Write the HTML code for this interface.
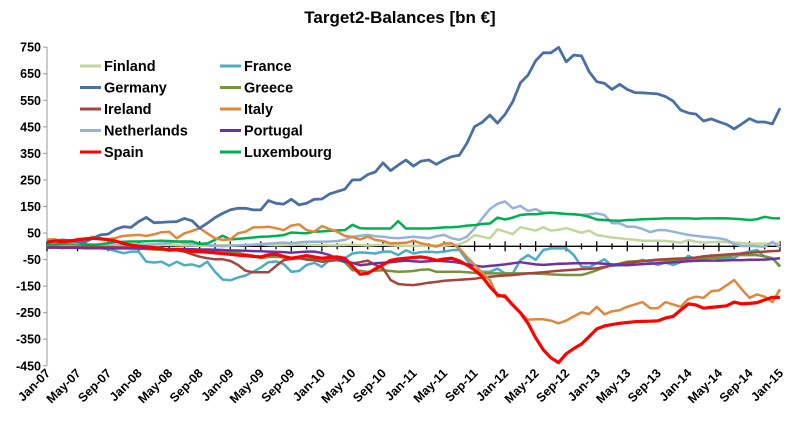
<!DOCTYPE html>
<html><head><meta charset="utf-8"><style>
body{margin:0;background:#fff;}
svg{display:block;font-family:"Liberation Sans",Arial,sans-serif;}
</style></head><body>
<svg id="chart" width="800" height="433" viewBox="0 0 800 433">
<text x="400" y="23" text-anchor="middle" font-size="17" font-weight="bold">Target2-Balances [bn €]</text>
<g id="yaxis"></g>
<g id="xaxis"></g>
<g id="series"></g>
<g id="legend"></g>
</svg>
<script>
const yTicks=[750,650,550,450,350,250,150,50,-50,-150,-250,-350,-450];
const xLabels=["Jan-07","May-07","Sep-07","Jan-08","May-08","Sep-08","Jan-09","May-09","Sep-09","Jan-10","May-10","Sep-10","Jan-11","May-11","Sep-11","Jan-12","May-12","Sep-12","Jan-13","May-13","Sep-13","Jan-14","May-14","Sep-14","Jan-15"];
const germany=[17,20,24,22,17,17,30,43,46,64,74,71,93,109,89,90,92,93,105,96,68,87,108,124,137,143,143,137,137,172,162,159,177,156,162,177,178,197,206,215,250,250,270,280,314,285,306,325,302,321,325,309,325,338,343,388,451,467,494,464,497,545,616,645,699,729,729,749,695,720,717,658,620,614,591,610,591,579,578,576,574,564,547,513,502,498,472,480,469,459,442,461,481,468,468,461,520];
const spain=[15,20,18,20,25,28,30,28,25,20,10,5,0,-2,-5,-8,-15,-12,-15,-20,-20,-22,-25,-28,-30,-33,-35,-38,-40,-32,-30,-38,-45,-40,-35,-40,-45,-42,-40,-45,-75,-105,-102,-85,-70,-53,-48,-45,-42,-40,-45,-53,-48,-45,-55,-70,-89,-114,-152,-183,-190,-221,-250,-290,-345,-390,-420,-438,-405,-385,-368,-340,-311,-300,-295,-290,-287,-284,-283,-282,-281,-270,-264,-240,-217,-221,-233,-230,-227,-224,-210,-217,-215,-212,-202,-192,-193];
const italy=[26,26,20,15,11,25,36,30,26,32,39,41,43,39,45,53,55,30,49,58,68,49,30,24,26,49,55,71,72,74,68,61,78,83,61,55,76,65,55,39,35,26,36,24,20,11,12,13,21,11,5,-1,11,11,-8,-40,-70,-100,-127,-190,-183,-221,-250,-277,-275,-275,-280,-290,-280,-264,-249,-255,-228,-256,-245,-241,-228,-219,-210,-233,-233,-210,-219,-228,-198,-190,-194,-169,-166,-147,-127,-162,-194,-181,-190,-210,-162];
const luxembourg=[5,7,9,11,10,8,5,8,12,15,17,18,18,19,20,21,20,18,18,18,9,11,24,40,26,28,30,33,36,37,39,42,52,50,49,55,56,58,60,61,81,68,67,67,67,67,95,67,67,67,67,69,71,72,74,78,80,84,86,108,101,108,118,121,121,124,126,124,122,121,118,111,101,99,97,96,99,100,102,103,104,105,105,105,105,104,105,105,106,105,104,102,99,102,111,106,105];
const netherlands=[5,5,6,5,5,6,7,5,3,2,5,6,8,6,8,10,12,18,12,10,8,5,2,0,2,3,5,6,8,10,12,14,11,15,17,17,17,18,20,24,36,40,43,38,36,32,30,33,36,33,30,38,43,30,24,36,67,105,140,160,169,143,152,133,140,127,127,125,121,120,118,120,124,118,87,87,74,74,65,53,61,61,55,49,43,39,36,33,30,24,8,1,1,0,-2,17,-4];
const finland=[2,2,3,3,3,2,2,3,3,4,5,4,3,3,4,5,5,4,3,3,2,2,3,4,5,4,5,6,8,5,4,5,6,7,6,5,5,4,4,5,6,5,3,5,6,4,2,2,1,2,2,3,2,5,8,20,42,36,30,64,55,46,72,66,59,72,59,62,68,60,51,59,42,38,33,30,27,24,21,21,21,20,17,14,24,17,14,15,17,16,14,12,9,10,10,11,11];
const france=[5,3,2,0,-2,-3,-5,-7,-10,-18,-26,-20,-20,-58,-61,-58,-73,-58,-71,-68,-77,-58,-96,-125,-128,-118,-110,-96,-80,-60,-57,-67,-96,-93,-70,-62,-77,-52,-45,-45,-27,-23,-25,-27,-20,-20,-33,-15,-27,-22,-20,-23,-20,-15,-13,-52,-90,-96,-96,-84,-102,-102,-52,-33,-51,-14,-8,-8,-8,-33,-77,-79,-64,-49,-74,-72,-70,-60,-51,-60,-70,-61,-70,-60,-36,-51,-49,-34,-51,-45,-45,-26,-20,-14,-39,-45,-74];
const greece=[-2,-2,-3,-3,-4,-4,-5,-5,-6,-6,-7,-8,-9,-10,-12,-14,-14,-15,-15,-16,-17,-18,-18,-20,-22,-25,-30,-35,-45,-40,-39,-42,-45,-45,-44,-45,-48,-52,-52,-60,-90,-92,-96,-92,-90,-93,-96,-95,-93,-88,-87,-96,-96,-96,-96,-98,-100,-102,-102,-102,-102,-102,-102,-102,-103,-104,-106,-107,-108,-108,-108,-100,-90,-80,-71,-65,-58,-56,-55,-54,-53,-52,-52,-50,-48,-46,-45,-44,-42,-40,-33,-33,-33,-33,-38,-45,-77];
const ireland=[-5,-4,-3,-3,-2,-2,-2,-3,-3,-4,-4,-5,-5,-6,-8,-10,-12,-15,-20,-30,-39,-45,-49,-49,-55,-70,-92,-98,-98,-98,-74,-52,-48,-45,-50,-52,-58,-55,-52,-55,-64,-60,-54,-70,-83,-127,-142,-145,-146,-142,-137,-134,-130,-128,-126,-124,-122,-118,-115,-112,-110,-108,-105,-102,-100,-98,-95,-92,-90,-88,-86,-85,-83,-78,-72,-67,-62,-59,-56,-53,-50,-49,-47,-46,-45,-42,-38,-35,-33,-31,-29,-27,-25,-22,-20,-18,-17];
const portugal=[-5,-5,-6,-6,-6,-7,-7,-7,-8,-8,-8,-8,-8,-8,-9,-9,-10,-10,-10,-11,-12,-12,-13,-14,-16,-16,-17,-18,-19,-20,-21,-22,-24,-22,-20,-20,-25,-33,-45,-58,-62,-71,-68,-64,-62,-60,-57,-54,-56,-58,-56,-54,-56,-58,-62,-68,-72,-77,-74,-71,-68,-64,-60,-64,-68,-70,-68,-66,-65,-64,-64,-64,-64,-66,-68,-70,-71,-69,-67,-66,-64,-62,-60,-58,-56,-55,-54,-54,-54,-53,-52,-52,-51,-51,-50,-48,-45];

const NS='http://www.w3.org/2000/svg';
const X0=47,X1=780,NPTS=97;
function xs(i){return X0+(X1-X0)*i/(NPTS-1);}
function ys(v){return 246.3-v*0.2655;}
function mk(tag,attrs,parent){const e=document.createElementNS(NS,tag);for(const k in attrs)e.setAttribute(k,attrs[k]);parent.appendChild(e);return e;}

const ya=document.getElementById('yaxis');
const yl=mk('line',{x1:X0,y1:ys(750),x2:X0,y2:ys(-450),stroke:'#999','stroke-width':1},ya);


yTicks.forEach(t=>{
  const tk=mk('line',{x1:X0-4,y1:ys(t),x2:X0,y2:ys(t),stroke:'#999'},ya);
  
  
  const tx=mk('text',{x:41,y:ys(t)+4.5,'text-anchor':'end','font-size':12.5,'font-weight':'bold'},ya);
  tx.textContent=t;
  
  
});

const xa=document.getElementById('xaxis');
const y0=ys(0);
const xl=mk('line',{x1:X0,y1:y0,x2:X1,y2:y0,stroke:'#000','stroke-width':1.3},xa);


for(let i=0;i<NPTS;i+=2){
  const major=i%4===0;
  const tk=mk('line',{x1:xs(i),y1:y0-(major?5:3),x2:xs(i),y2:y0+(major?5:3),stroke:'#000','stroke-width':1.3},xa);
  
  
}
xLabels.forEach((lab,k)=>{
  const x=xs(k*4)+4,y=374;
  const tx=mk('text',{x:x,y:y,'text-anchor':'end','font-size':12.5,'font-weight':'bold',transform:`rotate(-45 ${x} ${y})`},xa);
  tx.textContent=lab;
  
  
});

const seriesList=[
 ['Finland',finland,'#c3d69b',2.5],
 ['France',france,'#4bacc6',2.5],
 ['Netherlands',netherlands,'#95b3d7',2.5],
 ['Luxembourg',luxembourg,'#00b050',2.5],
 ['Greece',greece,'#77933c',2.5],
 ['Ireland',ireland,'#a5443f',2.5],
 ['Portugal',portugal,'#7030a0',2.5],
 ['Italy',italy,'#e0873c',2.5],
 ['Germany',germany,'#4a6fa5',2.8],
 ['Spain',spain,'#ff0000',3.2]
];
const sg=document.getElementById('series');
seriesList.forEach(s=>{
  const pts=s[1].map((v,i)=>xs(i).toFixed(1)+','+ys(v).toFixed(1)).join(' ');
  const pl=mk('polyline',{points:pts,fill:'none',stroke:s[2],'stroke-width':s[3],'stroke-linejoin':'round'},sg);
  
  
});

const legendItems=[
 ['Finland','#c3d69b',0,0],['France','#4bacc6',1,0],
 ['Germany','#4a6fa5',0,1],['Greece','#77933c',1,1],
 ['Ireland','#a5443f',0,2],['Italy','#e0873c',1,2],
 ['Netherlands','#95b3d7',0,3],['Portugal','#7030a0',1,3],
 ['Spain','#ff0000',0,4],['Luxembourg','#00b050',1,4]
];
const lg=document.getElementById('legend');
legendItems.forEach(it=>{
  const lx=it[2]?220:80, ly=66+it[3]*21.5;
  const g=mk('g',{},lg);
  
  
  mk('line',{x1:lx,y1:ly,x2:lx+21,y2:ly,stroke:it[1],'stroke-width':3},g);
  const t=mk('text',{x:lx+24,y:ly+5,'font-size':14.5,'font-weight':'bold'},g);
  t.textContent=it[0];
});
</script>
</body></html>
